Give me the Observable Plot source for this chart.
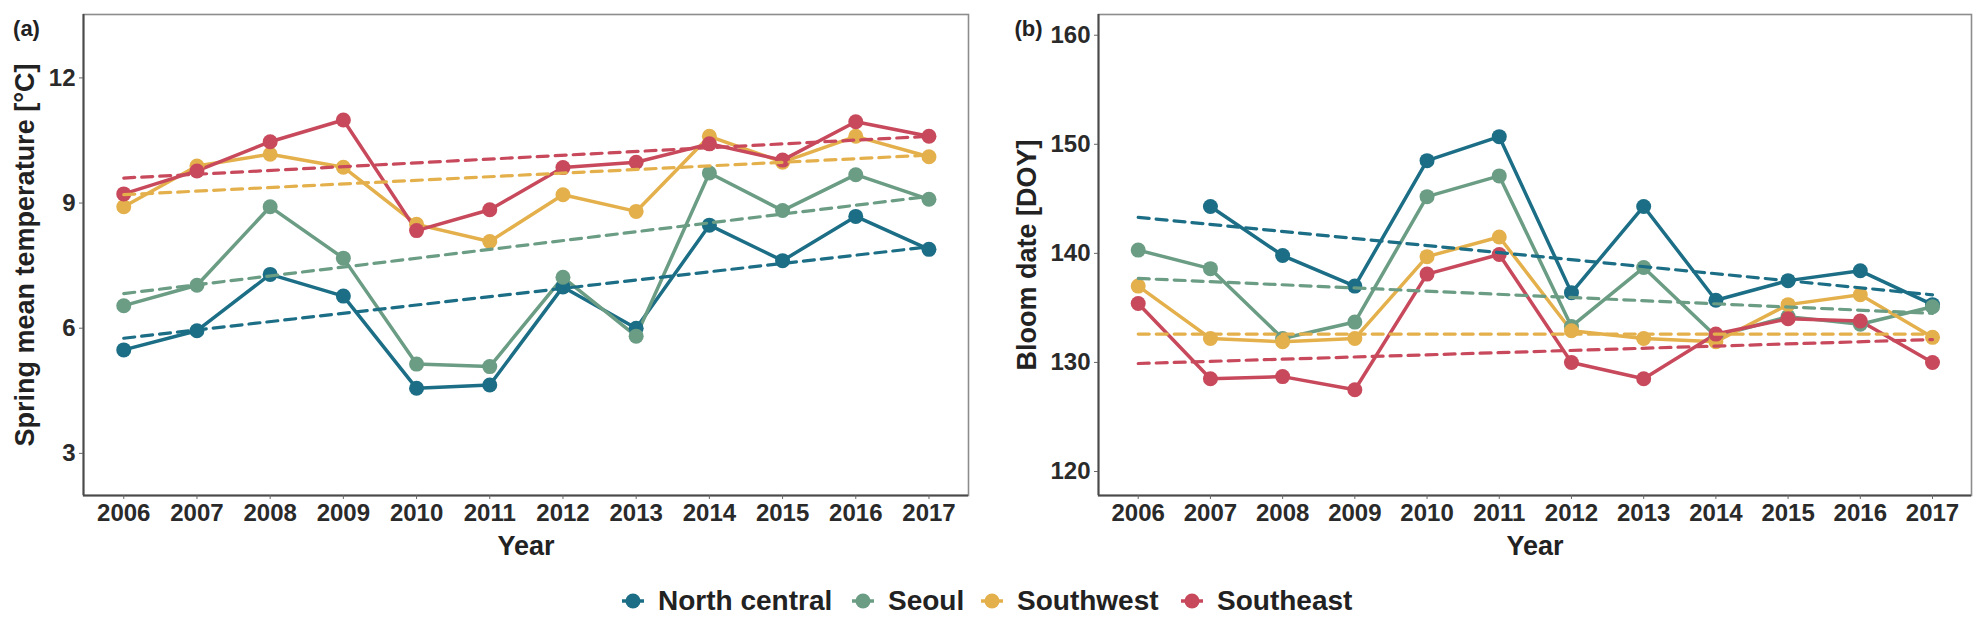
<!DOCTYPE html>
<html>
<head>
<meta charset="utf-8">
<script src="https://cdn.jsdelivr.net/npm/d3@7"></script>
<script src="https://cdn.jsdelivr.net/npm/@observablehq/plot@0.6"></script>
<style>
  html, body { margin: 0; padding: 0; background: #fff; }
  #root { position: relative; width: 1983px; height: 633px; font-family: "Liberation Sans", Arial, sans-serif; }
  #panelA { position: absolute; left: 0; top: 0; }
  #panelB { position: absolute; left: 985px; top: 0; }
  #legend { position: absolute; left: 0; top: 583px; width: 1983px; height: 36px; }
  .item { position: absolute; top: 0; display: flex; align-items: center; height: 36px; white-space: nowrap; }
  .item span { font-size: 28px; font-weight: bold; color: #222; margin-left: 13px; }
</style>
</head>
<body>
<div id="root">
  <div id="panelA"></div>
  <div id="panelB"></div>
  <div id="legend"></div>
</div>
<script>
const years = [2006, 2007, 2008, 2009, 2010, 2011, 2012, 2013, 2014, 2015, 2016, 2017];
const regions = ["North central", "Seoul", "Southwest", "Southeast"];
const colors = ["#1b6e85", "#6b9c84", "#e4b04c", "#c7495b"];

// Panel (a): spring mean temperature [°C]
const tempNorthCentral = [5.48, 5.94, 7.29, 6.77, 4.56, 4.64, 6.99, 6.00, 8.47, 7.62, 8.68, 7.89];
const tempSeoul        = [6.54, 7.03, 8.91, 7.68, 5.14, 5.08, 7.22, 5.81, 9.72, 8.82, 9.68, 9.09];
const tempSouthwest    = [8.91, 9.89, 10.17, 9.86, 8.49, 8.08, 9.20, 8.80, 10.60, 9.98, 10.60, 10.11];
const tempSoutheast    = [9.22, 9.77, 10.47, 10.99, 8.34, 8.84, 9.85, 9.98, 10.42, 10.03, 10.95, 10.60];
const tempTrendStart   = [5.76, 6.83, 9.20, 9.60];   // trend value at 2006, per region
const tempTrendEnd     = [7.95, 9.16, 10.15, 10.60]; // trend value at 2017, per region

// Panel (b): bloom date [DOY]
const bloomNorthCentral = [null, 144.3, 139.8, 137.0, 148.5, 150.7, 136.4, 144.3, 135.7, 137.5, 138.4, 135.3];
const bloomSeoul        = [140.3, 138.6, 132.2, 133.7, 145.2, 147.1, 133.3, 138.7, 132.4, 134.2, 133.5, 135.1];
const bloomSouthwest    = [137.0, 132.2, 131.9, 132.2, 139.7, 141.5, 132.9, 132.2, 131.9, 135.3, 136.2, 132.3];
const bloomSoutheast    = [135.4, 128.5, 128.7, 127.5, 138.1, 139.9, 130.0, 128.5, 132.6, 134.0, 133.8, 130.0];
const bloomTrendStart   = [143.3, 137.7, 132.6, 129.9];
const bloomTrendEnd     = [136.2, 134.5, 132.6, 132.1];

const tempTicks = [3, 6, 9, 12];
const bloomTicks = [120, 130, 140, 150, 160];
const tempDomain = [1.99, 13.52];
const bloomDomain = [117.8, 161.9];
const xDomain = [2005.45, 2017.54];

function toRows(seriesList) {
  const rows = [];
  seriesList.forEach((vals, i) => vals.forEach((v, j) => rows.push({region: regions[i], year: years[j], value: v})));
  return rows;
}
function trendRows(starts, ends) {
  const rows = [];
  regions.forEach((r, i) => {
    rows.push({region: r, year: years[0], value: starts[i]});
    rows.push({region: r, year: years[years.length - 1], value: ends[i]});
  });
  return rows;
}

const tempRows = toRows([tempNorthCentral, tempSeoul, tempSouthwest, tempSoutheast]);
const bloomRows = toRows([bloomNorthCentral, bloomSeoul, bloomSouthwest, bloomSoutheast]);
const tempTrend = trendRows(tempTrendStart, tempTrendEnd);
const bloomTrend = trendRows(bloomTrendStart, bloomTrendEnd);

const font = "Liberation Sans, Arial, sans-serif";

function panel({rows, trend, yDomain, yTicks, width, marginLeft, marginRight, yTitle, titleX, tag, tagX}) {
  const height = 565, marginTop = 14, marginBottom = 70;
  return Plot.plot({
    width, height, marginLeft, marginRight, marginTop, marginBottom,
    style: {fontFamily: font, fontWeight: "bold", color: "#2a2a2a", background: "#fff"},
    x: {domain: xDomain},
    y: {domain: yDomain},
    color: {domain: regions, range: colors},
    marks: [
      Plot.frame({stroke: "#8c8c8c", strokeWidth: 1.6}),
      Plot.ruleX([xDomain[0]], {stroke: "#4a4a4a", strokeWidth: 2}),
      Plot.ruleY([yDomain[0]], {stroke: "#4a4a4a", strokeWidth: 2}),
      Plot.axisX({ticks: years, tickFormat: "d", tickSize: 4, tickPadding: 4, fontSize: 24, label: null, stroke: "#666"}),
      Plot.axisY({ticks: yTicks, tickSize: 4, tickPadding: 4, fontSize: 24, label: null, stroke: "#666"}),
      Plot.line(rows, {x: "year", y: "value", z: "region", stroke: "region", strokeWidth: 3.5}),
      Plot.dot(rows, {x: "year", y: "value", fill: "region", r: 7.5}),
      Plot.line(trend, {x: "year", y: "value", z: "region", stroke: "region", strokeWidth: 3.2, strokeDasharray: "11,7"}),
      Plot.text([yTitle], {text: d => d, frameAnchor: "left", rotate: -90, dx: titleX - marginLeft, fontSize: 27, fontWeight: "bold", fill: "#222", textAnchor: "middle", lineAnchor: "middle"}),
      Plot.text(["Year"], {text: d => d, frameAnchor: "bottom", dy: 51, fontSize: 27, fontWeight: "bold", fill: "#222", lineAnchor: "middle"}),
      Plot.text([tag], {text: d => d, frameAnchor: "top-left", dx: tagX - marginLeft, dy: 14, fontSize: 22, fontWeight: "bold", fill: "#222", textAnchor: "middle", lineAnchor: "middle"})
    ]
  });
}

document.getElementById("panelA").appendChild(panel({
  rows: tempRows, trend: tempTrend, yDomain: tempDomain, yTicks: tempTicks,
  width: 985, marginLeft: 83, marginRight: 17,
  yTitle: "Spring mean temperature [°C]", titleX: 25, tag: "(a)", tagX: 26
}));
document.getElementById("panelB").appendChild(panel({
  rows: bloomRows, trend: bloomTrend, yDomain: bloomDomain, yTicks: bloomTicks,
  width: 998, marginLeft: 113, marginRight: 12,
  yTitle: "Bloom date [DOY]", titleX: 1027 - 985, tag: "(b)", tagX: 1028 - 985
}));

// Legend (key centres placed as in the reference)
const legendKeyX = [633, 863, 992, 1192];
const legend = document.getElementById("legend");
regions.forEach((r, i) => {
  const item = document.createElement("div");
  item.className = "item";
  item.style.left = (legendKeyX[i] - 12) + "px";
  item.innerHTML = `<svg width="24" height="20"><line x1="1" x2="23" y1="10" y2="10" stroke="${colors[i]}" stroke-width="3.5"/><circle cx="12" cy="10" r="7.5" fill="${colors[i]}"/></svg><span>${r}</span>`;
  legend.appendChild(item);
});
</script>
</body>
</html>
